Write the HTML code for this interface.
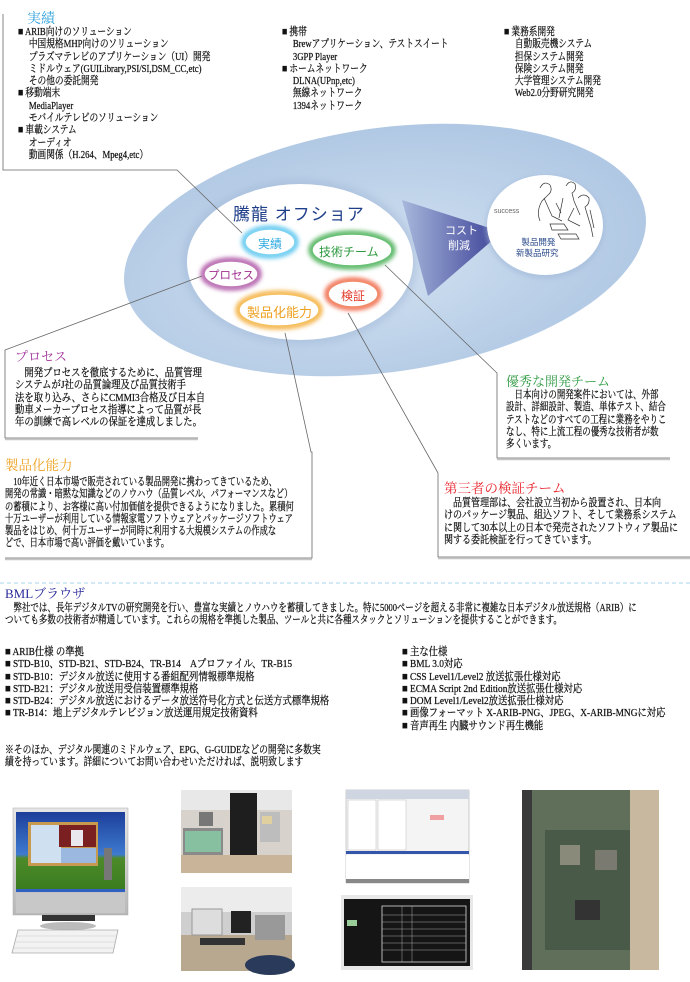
<!DOCTYPE html>
<html><head><meta charset="utf-8">
<style>
html,body{margin:0;padding:0;background:#fff;}
#pg{position:relative;width:690px;height:982px;overflow:hidden;background:#fff;}
.t{position:absolute;font-family:"Liberation Serif","Noto Serif CJK SC",serif;font-size:11px;line-height:12.3px;white-space:nowrap;transform-origin:0 0;color:#111;-webkit-text-stroke:0.25px #111;}
.h{position:absolute;font-family:"Liberation Serif","Noto Serif CJK SC",serif;font-size:13px;line-height:15px;white-space:nowrap;}
.s{position:absolute;font-family:"Liberation Sans","Noto Sans CJK SC",sans-serif;white-space:nowrap;}
svg{position:absolute;left:0;top:0;}
</style></head><body><div id="pg">
<svg width="690" height="982" viewBox="0 0 690 982">
<defs>
<radialGradient id="bg" cx="0.45" cy="0.55" r="0.6">
<stop offset="0" stop-color="#d6e3f2"/><stop offset="0.5" stop-color="#c0d4ea"/><stop offset="1" stop-color="#aec6e3"/>
</radialGradient>
<linearGradient id="tri" x1="0" y1="0" x2="1" y2="0">
<stop offset="0" stop-color="#a7b7dc"/><stop offset="1" stop-color="#3a3f95"/>
</linearGradient>
<filter id="bl" x="-30%" y="-30%" width="160%" height="160%"><feGaussianBlur stdDeviation="2"/></filter>
<filter id="bl2" x="-30%" y="-30%" width="160%" height="160%"><feGaussianBlur stdDeviation="4"/></filter>
<linearGradient id="sky" x1="0" y1="0" x2="0" y2="1"><stop offset="0" stop-color="#1d3f9a"/><stop offset="0.55" stop-color="#3e7ad0"/><stop offset="0.6" stop-color="#4d8a2a"/><stop offset="1" stop-color="#3a7d20"/></linearGradient>
<linearGradient id="silver" x1="0" y1="0" x2="0" y2="1"><stop offset="0" stop-color="#e6e6e6"/><stop offset="1" stop-color="#b8b8b8"/></linearGradient>
</defs>
<!-- big ellipse -->
<ellipse cx="385" cy="250" rx="263" ry="122" fill="url(#bg)" transform="rotate(-8 385 250)"/>
<ellipse cx="300" cy="262" rx="118" ry="83" fill="#9fb6d6" opacity="0.5" filter="url(#bl2)"/>
<ellipse cx="300" cy="262" rx="113" ry="78" fill="#fff"/>
<!-- triangle -->
<polygon points="402,200 502,232 428,296" fill="url(#tri)"/>
<!-- right circle -->
<ellipse cx="545" cy="227" rx="60" ry="52" fill="#9fb6d6" opacity="0.5" filter="url(#bl)"/>
<ellipse cx="545" cy="225" rx="58" ry="50" fill="#fff"/>
<g stroke="#333" stroke-width="0.7" fill="none">
<path d="M540 188 q4 -8 10 -3 q3 6 -2 10 l-6 6 q-6 10 -2 20 M544 198 l8 18 l10 5 M556 203 l5 10"/>
<path d="M566 186 q4 -7 9 -2 q2 6 -3 9 l2 8 l6 14 M563 198 l-4 20"/>
<path d="M578 198 q6 -6 11 0 q1 6 -4 9 l6 20 l2 10 M574 208 l-6 12 l12 6 M590 210 l4 18"/>
<path d="M550 224 l14 0 l4 6 l-16 0 z M558 234 l18 0 l3 5 l-18 0 z"/>
</g>
<!-- bubbles -->
<g>
<ellipse cx="270" cy="242" rx="26" ry="14" fill="none" stroke="#5cc6ef" stroke-width="5" filter="url(#bl)"/>
<ellipse cx="270" cy="242" rx="25" ry="13" fill="#fff" stroke="#7fd3f3" stroke-width="1.5"/>
<ellipse cx="352" cy="250" rx="41" ry="17" fill="none" stroke="#4fb25c" stroke-width="5" filter="url(#bl)"/>
<ellipse cx="352" cy="250" rx="40" ry="16" fill="#fff" stroke="#66bf72" stroke-width="1.5"/>
<ellipse cx="231" cy="274" rx="28" ry="14" fill="none" stroke="#b05aa8" stroke-width="5" filter="url(#bl)"/>
<ellipse cx="231" cy="274" rx="27" ry="13" fill="#fff" stroke="#c07ab8" stroke-width="1.5"/>
<ellipse cx="353" cy="294" rx="26" ry="14" fill="none" stroke="#ef6a4a" stroke-width="5" filter="url(#bl)"/>
<ellipse cx="353" cy="294" rx="25" ry="13" fill="#fff" stroke="#f28a6a" stroke-width="1.5"/>
<ellipse cx="279" cy="310" rx="41" ry="17" fill="none" stroke="#f4b040" stroke-width="5" filter="url(#bl)"/>
<ellipse cx="279" cy="310" rx="40" ry="16" fill="#fff" stroke="#f6c060" stroke-width="1.5"/>
</g>
<!-- connectors & boxes -->
<g stroke="#666" stroke-width="0.8" fill="none">
<polyline points="3,14 3,170 177,170 242,233"/>
<polyline points="202,276 5,350 5,438 198,438"/>
<polyline points="285,333 311,452 312,452 312,558 5,558"/>
<polyline points="348,313 438,473 438,557 690,557"/>
<polyline points="385,265 497,373 497,458 670,458"/>
</g>
<g stroke="#c4c4c4" stroke-width="1.5">
<line x1="5" y1="439.5" x2="198" y2="439.5"/>
<line x1="5" y1="559.5" x2="312" y2="559.5"/>
<line x1="438" y1="558.5" x2="690" y2="558.5"/>
<line x1="497" y1="459.5" x2="670" y2="459.5"/>
</g>
<line x1="0" y1="583" x2="690" y2="583" stroke="#a9d3ec" stroke-width="1" stroke-dasharray="4,3"/>
<!-- monitor -->
<rect x="13" y="808" width="115" height="107" fill="url(#silver)" stroke="#aaa" stroke-width="0.5"/>
<rect x="16" y="812" width="109" height="77" fill="url(#sky)"/>
<rect x="28" y="822" width="70" height="44" fill="#c89a50"/>
<rect x="31" y="825" width="30" height="38" fill="#cfe0f0"/>
<rect x="59" y="825" width="37" height="22" fill="#7a2020"/>
<rect x="71" y="830" width="12" height="16" fill="#e8e8ee"/>
<rect x="61" y="848" width="35" height="15" fill="#9ab8e0"/>
<rect x="104" y="848" width="8" height="32" fill="#777"/>
<rect x="16" y="889" width="109" height="3" fill="#3060c0"/>
<rect x="16" y="893" width="109" height="20" fill="#c8c8c8"/>
<rect x="42" y="915" width="53" height="6" fill="#333"/>
<ellipse cx="68" cy="926" rx="28" ry="4" fill="#bbb"/>
<polygon points="18,930 118,930 113,953 12,953" fill="#f2f2f2" stroke="#aaa" stroke-width="0.8"/>
<g stroke="#ccc" stroke-width="0.5"><line x1="16" y1="936" x2="116" y2="936"/><line x1="15" y1="942" x2="115" y2="942"/><line x1="14" y1="948" x2="114" y2="948"/></g>
<!-- photo 2 -->
<rect x="181" y="790" width="111" height="83" fill="#d7d3cc"/>
<rect x="181" y="790" width="111" height="20" fill="#e8e8e8"/>
<rect x="181" y="855" width="111" height="18" fill="#c9b49a"/>
<rect x="230" y="793" width="27" height="62" fill="#1e1e1e"/>
<rect x="183" y="828" width="40" height="27" fill="#8a8a8a"/>
<rect x="185" y="831" width="36" height="21" fill="#86c0a0"/>
<rect x="199" y="812" width="14" height="14" fill="#777"/>
<rect x="260" y="812" width="20" height="30" fill="#bdbdbd"/>
<rect x="262" y="816" width="10" height="8" fill="#e0d0a0"/>
<!-- photo 3 -->
<rect x="181" y="887" width="111" height="84" fill="#cfcfcf"/>
<rect x="181" y="887" width="111" height="25" fill="#ececec"/>
<rect x="181" y="935" width="111" height="36" fill="#b8a890"/>
<rect x="192" y="909" width="30" height="26" fill="#ddd" stroke="#999" stroke-width="1"/>
<rect x="231" y="911" width="20" height="22" fill="#222"/>
<rect x="255" y="915" width="30" height="25" fill="#999"/>
<rect x="200" y="938" width="45" height="7" fill="#333"/>
<ellipse cx="270" cy="965" rx="25" ry="10" fill="#2a3a5a"/>
<!-- screenshot 4 -->
<rect x="346" y="790" width="123" height="93" fill="#f4f4f4" stroke="#999" stroke-width="0.5"/>
<rect x="346" y="790" width="123" height="9" fill="#cfd6e2"/>
<rect x="348" y="800" width="28" height="50" fill="#fff" stroke="#bbb" stroke-width="0.5"/>
<rect x="378" y="800" width="28" height="50" fill="#fff" stroke="#bbb" stroke-width="0.5"/>
<rect x="346" y="851" width="123" height="3" fill="#3355aa"/>
<rect x="346" y="855" width="123" height="24" fill="#fff"/>
<rect x="346" y="879" width="123" height="4" fill="#888"/>
<rect x="430" y="815" width="14" height="5" fill="#f0a0a0"/>
<!-- screenshot 5 -->
<rect x="341" y="895" width="132" height="75" fill="#e8e8e8"/>
<rect x="344" y="899" width="126" height="67" fill="#151515"/>
<rect x="382" y="906" width="84" height="56" fill="none" stroke="#ddd" stroke-width="0.8"/>
<g stroke="#ccc" stroke-width="0.4"><line x1="382" y1="915" x2="466" y2="915"/><line x1="382" y1="922" x2="466" y2="922"/><line x1="382" y1="929" x2="466" y2="929"/><line x1="382" y1="936" x2="466" y2="936"/><line x1="382" y1="943" x2="466" y2="943"/><line x1="382" y1="950" x2="466" y2="950"/><line x1="402" y1="906" x2="402" y2="962"/><line x1="412" y1="906" x2="412" y2="962"/></g>
<rect x="347" y="920" width="10" height="6" fill="#9c9"/>
<!-- board -->
<rect x="522" y="790" width="137" height="180" fill="#c9b8a0"/>
<rect x="530" y="790" width="100" height="180" fill="#5f6f5a"/>
<rect x="545" y="830" width="85" height="120" fill="#4a5a48"/>
<rect x="560" y="845" width="20" height="20" fill="#8a8a7a"/>
<rect x="595" y="850" width="22" height="20" fill="#7a7a70"/>
<rect x="575" y="900" width="25" height="20" fill="#333"/>
<rect x="522" y="790" width="10" height="180" fill="#3a3a3a"/>
</svg>

<div class="h" style="left:27px;top:12px;color:#2aa0dc;font-size:14px;">実績</div>
<div class="t" style="left:18px;top:26px;transform:scaleX(.79)">■ ARIB向けのソリューション<br>&nbsp;&nbsp;&nbsp;&nbsp;&nbsp;中国規格MHP向けのソリューション<br>&nbsp;&nbsp;&nbsp;&nbsp;&nbsp;プラズマテレビのアプリケーション（UI）開発<br>&nbsp;&nbsp;&nbsp;&nbsp;&nbsp;ミドルウェア(GUILibrary,PSI/SI,DSM_CC,etc)<br>&nbsp;&nbsp;&nbsp;&nbsp;&nbsp;その他の委託開発<br>■ 移動端末<br>&nbsp;&nbsp;&nbsp;&nbsp;&nbsp;MediaPlayer<br>&nbsp;&nbsp;&nbsp;&nbsp;&nbsp;モバイルテレビのソリューション<br>■ 車載システム<br>&nbsp;&nbsp;&nbsp;&nbsp;&nbsp;オーディオ<br>&nbsp;&nbsp;&nbsp;&nbsp;&nbsp;動画関係（H.264、Mpeg4,etc）</div>
<div class="t" style="left:282px;top:26px;transform:scaleX(.79)">■ 携帯<br>&nbsp;&nbsp;&nbsp;&nbsp;&nbsp;Brewアプリケーション、テストスイート<br>&nbsp;&nbsp;&nbsp;&nbsp;&nbsp;3GPP Player<br>■ ホームネットワーク<br>&nbsp;&nbsp;&nbsp;&nbsp;&nbsp;DLNA(UPnp,etc)<br>&nbsp;&nbsp;&nbsp;&nbsp;&nbsp;無線ネットワーク<br>&nbsp;&nbsp;&nbsp;&nbsp;&nbsp;1394ネットワーク</div>
<div class="t" style="left:504px;top:26px;transform:scaleX(.79)">■ 業務系開発<br>&nbsp;&nbsp;&nbsp;&nbsp;&nbsp;自動販売機システム<br>&nbsp;&nbsp;&nbsp;&nbsp;&nbsp;担保システム開発<br>&nbsp;&nbsp;&nbsp;&nbsp;&nbsp;保険システム開発<br>&nbsp;&nbsp;&nbsp;&nbsp;&nbsp;大学管理システム開発<br>&nbsp;&nbsp;&nbsp;&nbsp;&nbsp;Web2.0分野研究開発</div>

<div class="s" style="left:233px;top:200px;font-size:17px;color:#1f3f8a;letter-spacing:1px;">騰龍 オフショア</div>
<div class="s" style="left:258px;top:235px;font-size:12px;color:#2aa8e0;">実績</div>
<div class="s" style="left:319px;top:243px;font-size:12px;color:#2e9a40;">技術チーム</div>
<div class="s" style="left:208px;top:267px;font-size:11.5px;color:#a0308f;">プロセス</div>
<div class="s" style="left:341px;top:287px;font-size:12px;color:#e33a2a;">検証</div>
<div class="s" style="left:247px;top:302px;font-size:13px;color:#eea020;">製品化能力</div>
<div class="s" style="left:445px;top:224px;font-size:11px;color:#fff;line-height:15px;">コスト<br>&nbsp;削減</div>
<div class="s" style="left:494px;top:208px;font-size:7px;color:#666;">success</div>
<div class="s" style="left:516px;top:237px;font-size:8.5px;color:#2a4a8a;line-height:11px;text-align:center;">&nbsp;製品開発<br>新製品研究</div>

<div class="h" style="left:15px;top:349px;color:#a0309a;">プロセス</div>
<div class="t" style="left:15px;top:367px;transform:scaleX(.85)">&nbsp;&nbsp;&nbsp;&nbsp;開発プロセスを徹底するために、品質管理<br>システムがJ社の品質論理及び品質技術手<br>法を取り込み、さらにCMMI3合格及び日本自<br>動車メーカープロセス指導によって品質が長<br>年の訓練で高レベルの保証を達成しました。</div>

<div class="h" style="left:506px;top:374px;color:#2e9a40;">優秀な開発チーム</div>
<div class="t" style="left:506px;top:389px;transform:scaleX(.77)">&nbsp;&nbsp;&nbsp;&nbsp;日本向けの開発案件においては、外部<br>設計、詳細設計、製造、単体テスト、結合<br>テストなどのすべての工程に業務をやりこ<br>なし、特に上流工程の優秀な技術者が数<br>多くいます。</div>

<div class="h" style="left:5px;top:458px;color:#eea020;font-size:13.5px;">製品化能力</div>
<div class="t" style="left:5px;top:476px;transform:scaleX(.75)">&nbsp;&nbsp;&nbsp;&nbsp;10年近く日本市場で販売されている製品開発に携わってきているため、<br>開発の常識・暗黙な知識などのノウハウ（品質レベル、パフォーマンスなど）<br>の蓄積により、お客様に高い付加価値を提供できるようになりました。累積何<br>十万ユーザーが利用している情報家電ソフトウェアとパッケージソフトウェア<br>製品をはじめ、何十万ユーザーが同時に利用する大規模システムの作成な<br>どで、日本市場で高い評価を戴いています。</div>

<div class="h" style="left:444px;top:481px;color:#e8202a;font-size:13.5px;">第三者の検証チーム</div>
<div class="t" style="left:444px;top:497px;transform:scaleX(.82)">&nbsp;&nbsp;&nbsp;&nbsp;品質管理部は、会社設立当初から設置され、日本向<br>けのパッケージ製品、組込ソフト、そして業務系システム<br>に関して30本以上の日本で発売されたソフトウィア製品に<br>関する委託検証を行ってきています。</div>

<div class="h" style="left:5px;top:586px;color:#2a2a9a;">BMLブラウザ</div>
<div class="t" style="left:5px;top:602px;transform:scaleX(.77)">&nbsp;&nbsp;&nbsp;&nbsp;弊社では、長年デジタルTVの研究開発を行い、豊富な実績とノウハウを蓄積してきました。特に5000ページを超える非常に複雑な日本デジタル放送規格（ARIB）に<br>ついても多数の技術者が精通しています。これらの規格を準拠した製品、ツールと共に各種スタックとソリューションを提供することができます。</div>
<div class="t" style="left:5px;top:646px;transform:scaleX(.85)">■ ARIB仕様 の準拠<br>■ STD-B10、STD-B21、STD-B24、TR-B14　Aプロファイル、TR-B15<br>■ STD-B10：デジタル放送に使用する番組配列情報標準規格<br>■ STD-B21：デジタル放送用受信装置標準規格<br>■ STD-B24：デジタル放送におけるデータ放送符号化方式と伝送方式標準規格<br>■ TR-B14：地上デジタルテレビジョン放送運用規定技術資料</div>
<div class="t" style="left:402px;top:646px;transform:scaleX(.85)">■ 主な仕様<br>■ BML 3.0対応<br>■ CSS Level1/Level2 放送拡張仕様対応<br>■ ECMA Script 2nd Edition放送拡張仕様対応<br>■ DOM Level1/Level2放送拡張仕様対応<br>■ 画像フォーマット X-ARIB-PNG、JPEG、X-ARIB-MNGに対応<br>■ 音声再生 内臓サウンド再生機能</div>
<div class="t" style="left:5px;top:744px;transform:scaleX(.8)">※そのほか、デジタル関連のミドルウェア、EPG、G-GUIDEなどの開発に多数実<br>績を持っています。詳細についてお問い合わせいただければ、説明致します</div>
</div></body></html>
